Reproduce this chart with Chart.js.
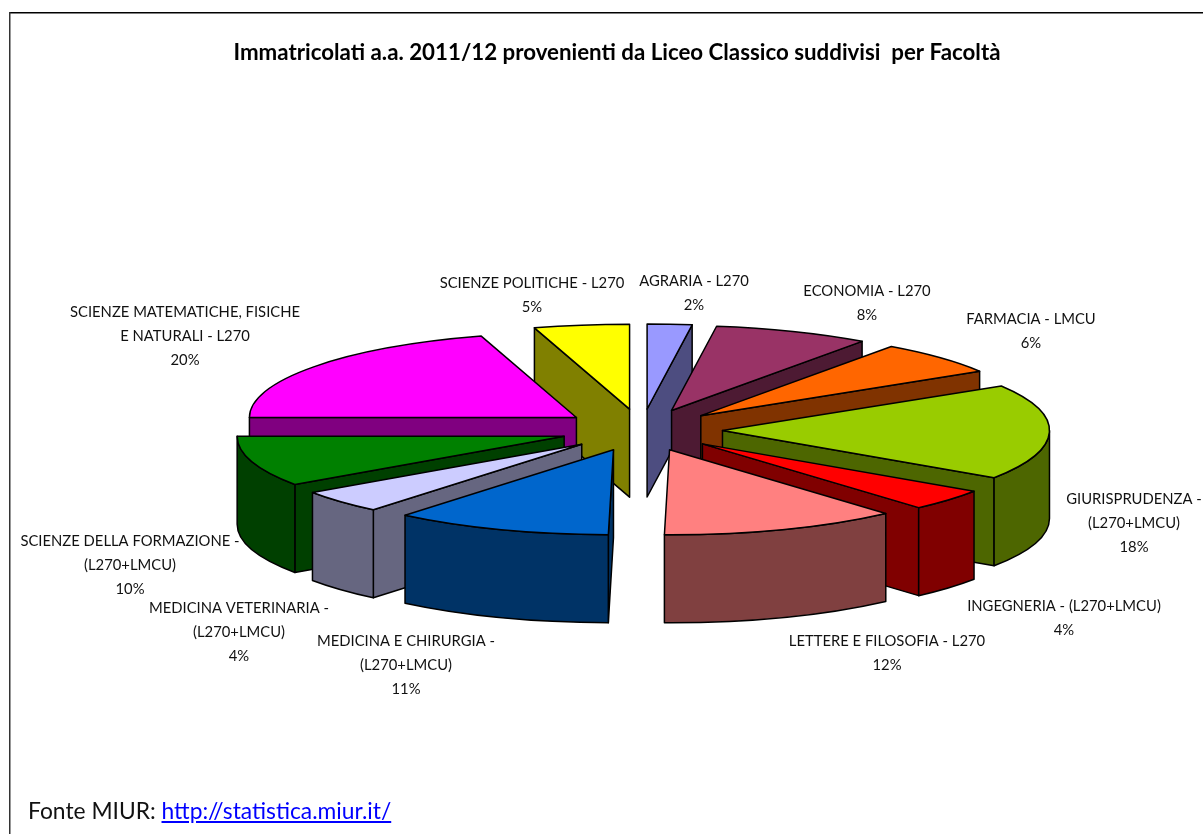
<!DOCTYPE html>
<html>
<head>
<meta charset="utf-8">
<script src="https://cdn.jsdelivr.net/npm/chart.js@4/dist/chart.umd.min.js"></script>
<style>
html,body{margin:0;padding:0;background:#fff;overflow:hidden}
#wrap{position:relative;width:1203px;height:834px}
#c{position:absolute;left:0;top:0}
#src{position:absolute;left:28px;top:796px;font:22.8px Lato,sans-serif;color:#111;white-space:nowrap}
#src a{color:#0000ff;text-decoration:underline}
</style>
</head>
<body>
<div id="wrap">
<canvas id="c" width="1203" height="834"></canvas>
<div id="src">Fonte MIUR: <a href="http://statistica.miur.it/">http://statistica.miur.it/</a></div>
</div>
<script>
const chartTitle = "Immatricolati a.a. 2011/12 provenienti da Liceo Classico suddivisi  per Facoltà";
const categories = [
  "AGRARIA - L270", "ECONOMIA - L270", "FARMACIA - LMCU",
  "GIURISPRUDENZA - (L270+LMCU)", "INGEGNERIA - (L270+LMCU)",
  "LETTERE E FILOSOFIA - L270", "MEDICINA E CHIRURGIA - (L270+LMCU)",
  "MEDICINA VETERINARIA - (L270+LMCU)", "SCIENZE DELLA FORMAZIONE - (L270+LMCU)",
  "SCIENZE MATEMATICHE, FISICHE E NATURALI - L270", "SCIENZE POLITICHE - L270"
];
// Shares; labels show them rounded.
const percentages = [2.2, 7.7, 6.35, 18.15, 4.1, 11.75, 10.75, 4.4, 9.6, 20.3, 4.7];

const topColors = ["#9999FF","#993366","#FF6600","#99CC00","#FF0000","#FF8080","#0066CC","#CCCCFF","#008000","#FF00FF","#FFFF00"];
const wallColors = ["#4D4D80","#4D1A33","#803300","#4D6600","#800000","#804040","#003366","#666680","#004000","#800080","#808000"];

// Wrapped label text and its placement (centre x, first line middle y)
const labelLines = [
  ["AGRARIA - L270"], ["ECONOMIA - L270"], ["FARMACIA - LMCU"],
  ["GIURISPRUDENZA -","(L270+LMCU)"], ["INGEGNERIA - (L270+LMCU)"],
  ["LETTERE E FILOSOFIA - L270"], ["MEDICINA E CHIRURGIA -","(L270+LMCU)"],
  ["MEDICINA VETERINARIA -","(L270+LMCU)"], ["SCIENZE DELLA FORMAZIONE -","(L270+LMCU)"],
  ["SCIENZE MATEMATICHE, FISICHE","E NATURALI - L270"], ["SCIENZE POLITICHE - L270"]
];
const labelX = [694, 867, 1031, 1134, 1064, 887, 406, 239, 130, 185, 532];
const labelY = [281, 291, 319, 499, 606, 641, 641, 608, 541, 312, 283];
const lineGap = 24;

const TILT = 0.26, EXPLODE = 81, DEPTH = 88;

const pie3d = {
  id: 'pie3d',
  beforeDatasetsDraw(chart) {
    const ctx = chart.ctx;
    const arcs = chart.getDatasetMeta(0).data.map((a, i) => ({a, i}));
    const mid = o => (o.a.startAngle + o.a.endAngle) / 2;
    arcs.sort((p, q) => Math.sin(mid(p)) - Math.sin(mid(q)));
    ctx.save();
    ctx.lineWidth = 1.5;
    ctx.lineJoin = 'round';
    ctx.strokeStyle = '#000';
    for (const o of arcs) {
      const {x, y, outerRadius: R, startAngle: a0, endAngle: a1} = o.a;
      const m = mid(o);
      const tx = x + Math.cos(m) * EXPLODE;
      const ty = y + Math.sin(m) * EXPLODE * TILT;
      const px = t => tx + Math.cos(t) * R;
      const py = t => ty + Math.sin(t) * R * TILT;
      const ry = R * TILT;
      ctx.fillStyle = wallColors[o.i];
      const radial = t => {
        ctx.beginPath();
        ctx.moveTo(tx, ty);
        ctx.lineTo(px(t), py(t));
        ctx.lineTo(px(t), py(t) + DEPTH);
        ctx.lineTo(tx, ty + DEPTH);
        ctx.closePath();
        ctx.fill(); ctx.stroke();
      };
      if (-Math.cos(a0) > 1e-6) radial(a0);
      if (Math.cos(a1) > 1e-6) radial(a1);
      const b0 = Math.max(a0, 0), b1 = Math.min(a1, Math.PI);
      if (b1 > b0) {
        ctx.beginPath();
        ctx.ellipse(tx, ty, R, ry, 0, b0, b1);
        ctx.ellipse(tx, ty + DEPTH, R, ry, 0, b1, b0, true);
        ctx.closePath();
        ctx.fill(); ctx.stroke();
      }
      ctx.fillStyle = topColors[o.i];
      ctx.beginPath();
      ctx.moveTo(tx, ty);
      ctx.ellipse(tx, ty, R, ry, 0, a0, a1);
      ctx.closePath();
      ctx.fill(); ctx.stroke();
    }
    ctx.restore();
    return false;
  },
  afterDraw(chart) {
    const ctx = chart.ctx;
    ctx.save();
    ctx.fillStyle = '#000';
    ctx.textAlign = 'center';
    ctx.textBaseline = 'middle';
    ctx.font = 'bold 22.3px Lato, sans-serif';
    ctx.fillText(chartTitle, 617, 53, 767);
    ctx.font = '14.8px Lato, sans-serif';
    ctx.fillStyle = '#111';
    categories.forEach((c, i) => {
      const lines = labelLines[i].concat([Math.round(percentages[i]) + '%']);
      lines.forEach((ln, k) => {
        ctx.fillText(ln, labelX[i], labelY[i] + k * lineGap);
      });
    });
    // frame
    ctx.fillStyle = '#000';
    ctx.fillRect(9, 12, 1203, 1.5);
    ctx.fillStyle = '#333';
    ctx.fillRect(9, 12, 1.5, 822);
    ctx.restore();
  }
};

new Chart(document.getElementById('c'), {
  type: 'pie',
  data: {
    labels: categories,
    datasets: [{ data: percentages, backgroundColor: topColors, borderColor: '#000', borderWidth: 1 }]
  },
  options: {
    responsive: false,
    animation: false,
    radius: 327,
    layout: { padding: { left: 80, top: 26 } },
    plugins: { legend: { display: false }, tooltip: { enabled: false }, title: { display: false } }
  },
  plugins: [pie3d]
});
</script>
</body>
</html>
